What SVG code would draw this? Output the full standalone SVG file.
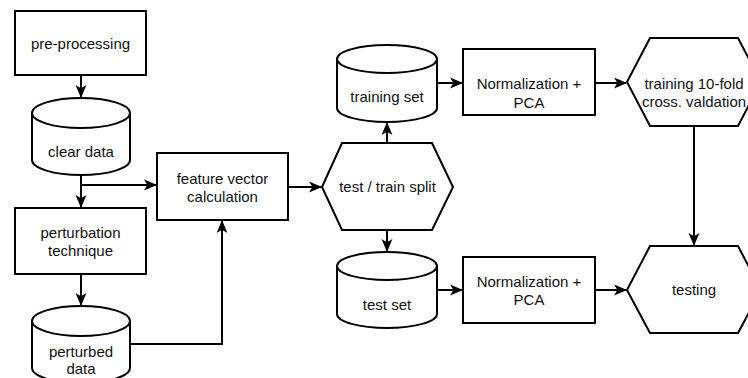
<svg xmlns="http://www.w3.org/2000/svg" width="748" height="378" viewBox="0 0 748 378">
<style>
.s{fill:#fff;stroke:#000;stroke-width:2}
.c{fill:none;stroke:#000;stroke-width:2}
text{font-family:"Liberation Sans",Arial,sans-serif;font-size:15px;fill:#111;text-anchor:middle}
</style>
<defs>
<marker id="a" markerUnits="userSpaceOnUse" markerWidth="13" markerHeight="12" viewBox="0 0 12 11" refX="11" refY="5.5" orient="auto">
<path d="M0,0.5 L12,5.5 L0,10.5 L3,5.5 z" fill="#000"/>
</marker>
</defs>
<rect width="748" height="378" fill="#fff"/>
<g id="connectors" class="c">
<path class="c" d="M81,75 V97" marker-end="url(#a)"/>
<path class="c" d="M81,175 V207" marker-end="url(#a)"/>
<path class="c" d="M81,185 H156" marker-end="url(#a)"/>
<path class="c" d="M81,274 V305" marker-end="url(#a)"/>
<path class="c" d="M130,344 H222 V221" marker-end="url(#a)"/>
<path class="c" d="M288,187 H321" marker-end="url(#a)"/>
<path class="c" d="M387,143 V123" marker-end="url(#a)"/>
<path class="c" d="M387,230 V251" marker-end="url(#a)"/>
<path class="c" d="M437,83 H462" marker-end="url(#a)"/>
<path class="c" d="M595,83 H626" marker-end="url(#a)"/>
<path class="c" d="M437,290 H462" marker-end="url(#a)"/>
<path class="c" d="M595,290 H626" marker-end="url(#a)"/>
<path class="c" d="M694,126 V245" marker-end="url(#a)"/>
</g>
<g id="pre-processing">
<rect class="s" x="15" y="11" width="131" height="64"/>
<text x="80.5" y="48.5">pre-processing</text>
</g>
<g id="clear-data">
<path class="s" d="M32,113 A49,15 0 0 1 130,113 V160 A49,15 0 0 1 32,160 Z"/>
<path class="c" d="M32,113 A49,15 0 0 0 130,113"/>
<text x="81" y="157">clear data</text>
</g>
<g id="perturbation">
<rect class="s" x="15" y="208" width="131" height="66"/>
<text x="80.5" y="238">perturbation</text>
<text x="80.5" y="256">technique</text>
</g>
<g id="perturbed-data">
<path class="s" d="M32,321 A49,15 0 0 1 130,321 V368 A49,15 0 0 1 32,368 Z"/>
<path class="c" d="M32,321 A49,15 0 0 0 130,321"/>
<text x="81" y="357">perturbed</text>
<text x="81" y="374">data</text>
</g>
<g id="feature-vector">
<rect class="s" x="157" y="153" width="131" height="67"/>
<text x="222.5" y="184">feature vector</text>
<text x="222.5" y="202">calculation</text>
</g>
<g id="split">
<polygon class="s" points="322,187 342,143 432,143 453,187 432,230 342,230"/>
<text x="387.5" y="192">test / train split</text>
</g>
<g id="training-set">
<path class="s" d="M337,59 A50,14 0 0 1 437,59 V108 A50,14 0 0 1 337,108 Z"/>
<path class="c" d="M337,59 A50,14 0 0 0 437,59"/>
<text x="387" y="102">training set</text>
</g>
<g id="test-set">
<path class="s" d="M337,266 A50,14 0 0 1 437,266 V314 A50,14 0 0 1 337,314 Z"/>
<path class="c" d="M337,266 A50,14 0 0 0 437,266"/>
<text x="387" y="310">test set</text>
</g>
<g id="norm1">
<rect class="s" x="463" y="49" width="132" height="66"/>
<text x="529" y="89">Normalization +</text>
<text x="529" y="108">PCA</text>
</g>
<g id="norm2">
<rect class="s" x="463" y="257" width="132" height="66"/>
<text x="529" y="287">Normalization +</text>
<text x="529" y="305">PCA</text>
</g>
<g id="training">
<polygon class="s" points="627,82 650,38 738,38 761,82 738,126 650,126"/>
<text x="694" y="89">training 10-fold</text>
<text x="694" y="107">cross. valdation</text>
</g>
<g id="testing">
<polygon class="s" points="627,290 650,246 738,246 761,290 738,333 650,333"/>
<text x="694" y="295">testing</text>
</g>
</svg>
